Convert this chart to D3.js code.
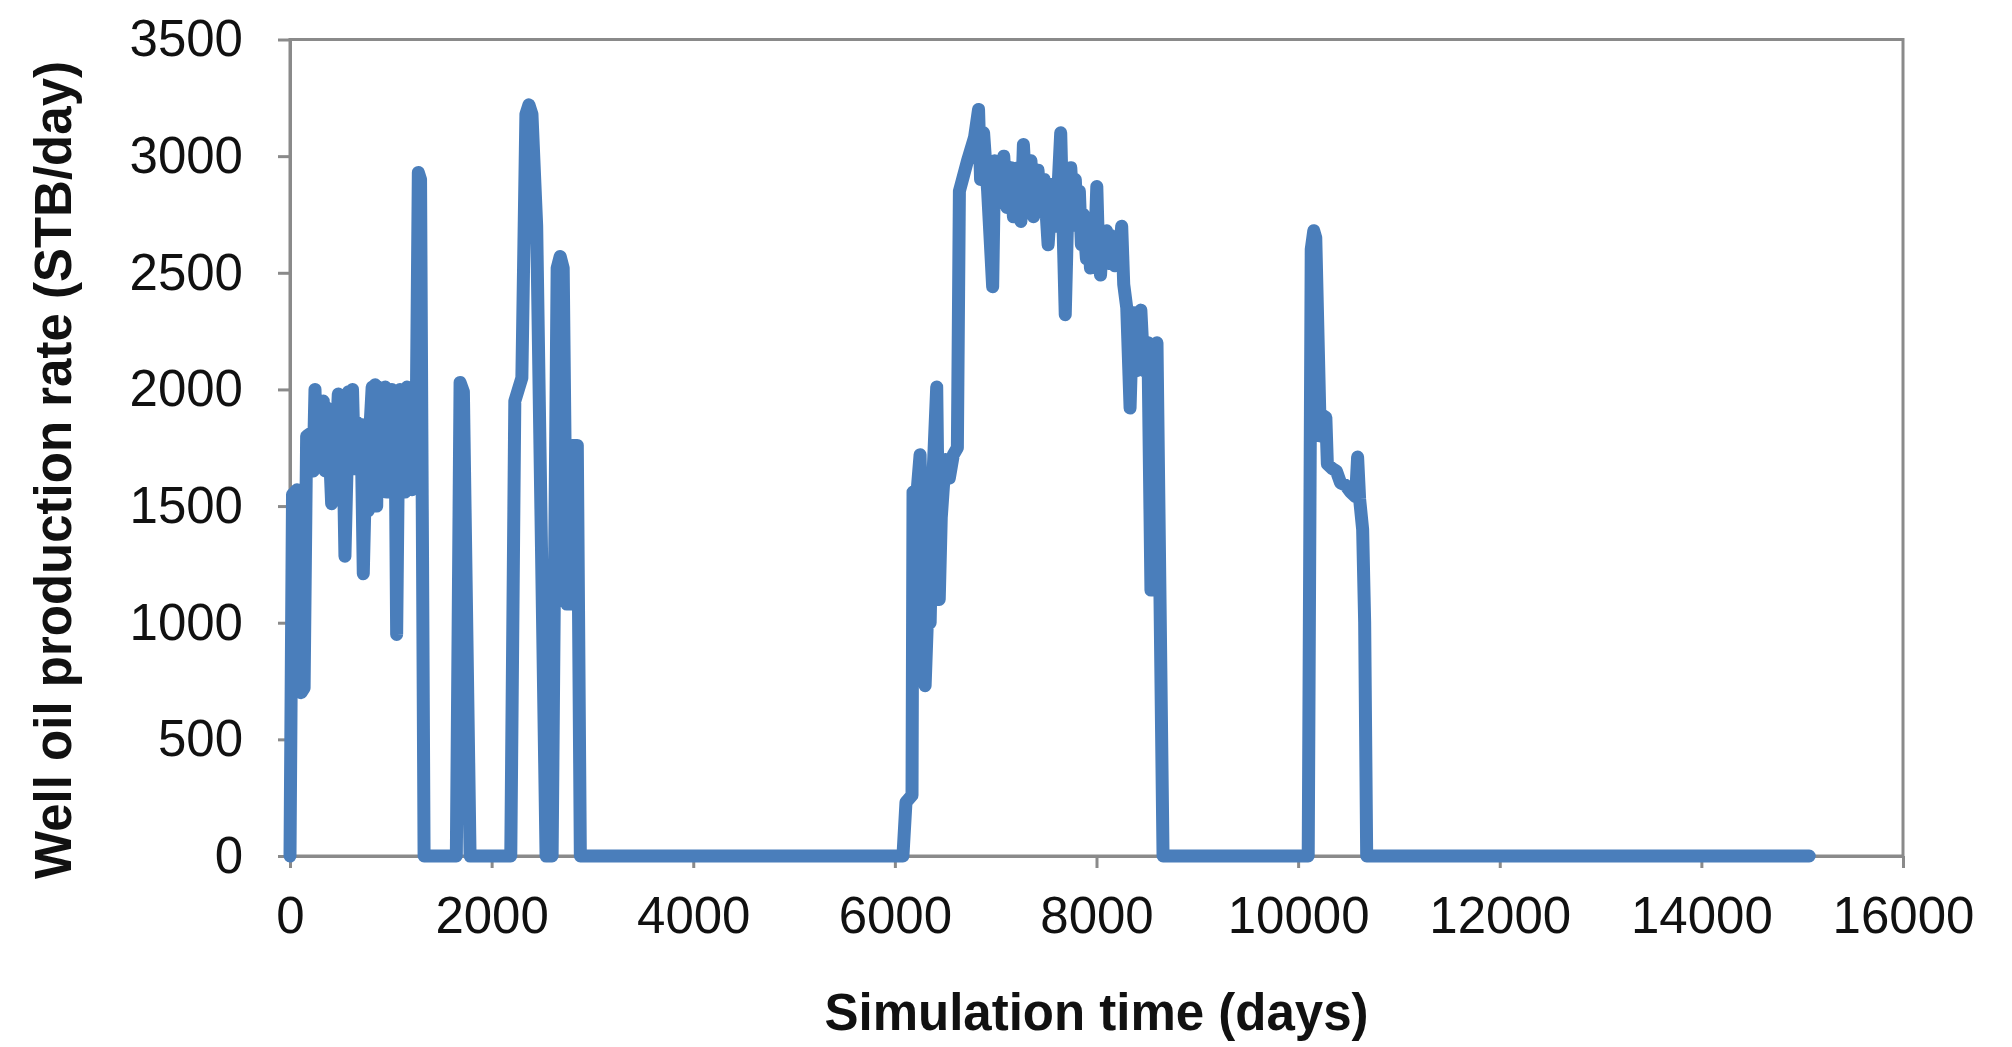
<!DOCTYPE html>
<html>
<head>
<meta charset="utf-8">
<script src="https://cdn.jsdelivr.net/npm/d3@7/dist/d3.min.js"></script>
<style>
    body { margin: 0; background: #fff; }
    svg text { font-family: "Liberation Sans", Arial, sans-serif; fill: #111; }
</style>
</head>
<body>
<svg id="chart" width="2012" height="1047"></svg>
<script>
// Data (days, STB/day)
const simDays = [
    0, 25, 70, 110, 140, 165, 200, 230, 248, 265, 290, 310, 330, 350, 370, 395, 413, 430, 455, 479,
    500, 520, 545, 565, 580, 600, 620, 640, 661, 680, 705, 727, 745, 765, 777, 795, 815, 830, 845, 860,
    875, 895, 912, 930, 945, 960, 975, 992, 1010, 1030, 1045, 1058, 1075, 1091, 1110, 1125, 1141, 1160, 1175, 1190,
    1210, 1225, 1240, 1255, 1273, 1295, 1330,
    1650, 1687, 1720, 1786,
    2190, 2230, 2300, 2340, 2370, 2400, 2447, 2540,
    2600, 2650, 2680, 2710, 2745, 2790, 2800, 2850, 2880,
    6080, 6110, 6170, 6180, 6220, 6250, 6300, 6330, 6350, 6380, 6415, 6440, 6460, 6500, 6540, 6580, 6620, 6640, 6720, 6790,
    6830, 6850, 6880, 6920, 6970, 6990, 7030, 7080, 7110, 7150, 7176, 7220, 7250, 7275, 7310, 7350, 7374, 7420, 7450, 7480,
    7520, 7560, 7600, 7645, 7690, 7720, 7745, 7770, 7790, 7810, 7830, 7850, 7870, 7900, 7920, 7940, 7960, 7980, 8003, 8020,
    8040, 8060, 8080, 8100, 8120, 8140, 8160, 8180, 8200, 8220, 8250, 8270, 8300, 8333, 8360, 8400, 8440, 8470, 8510, 8540,
    8570, 8600, 8660,
    10100, 10130, 10155, 10175, 10220, 10240, 10275, 10290, 10340, 10380, 10420, 10470, 10520, 10570, 10590, 10610, 10640, 10660, 10680,
    15070
];
const oilRate = [
    0, 1550, 1570, 700, 720, 1800, 1810, 1650, 2000, 1680, 1830, 1700, 1950, 1650, 1920, 1700, 1510, 1900, 1750, 1980,
    1650, 1920, 1285, 1650, 1990, 1700, 2000, 1660, 1860, 1700, 1850, 1210, 1550, 1600, 1480, 1850, 2010, 1650, 2020, 1500,
    2010, 1680, 2000, 1650, 2010, 1560, 1950, 1700, 2000, 1620, 1700, 950, 1700, 2000, 1600, 1950, 1560, 2010, 1600, 1980,
    1570, 2010, 1580, 2020, 2930, 2900, 0,
    0, 2030, 1990, 0,
    0, 1950, 2050, 3180, 3220, 3180, 2700, 0,
    0, 2520, 2570, 2520, 1080, 1080, 1760, 1760, 0,
    0, 230, 260, 1560, 1560, 1720, 730, 1100, 1000, 1650, 2010, 1100, 1450, 1700, 1620, 1720, 1750, 2850, 2980, 3080,
    3200, 2900, 3100, 2850, 2440, 2980, 2800, 3000, 2780, 2950, 2740, 2950, 2720, 3050, 2760, 2980, 2740, 2940, 2760, 2900,
    2620, 2880, 2700, 3100, 2320, 2850, 2950, 2750, 2900, 2700, 2850, 2620, 2750, 2560, 2700, 2520, 2640, 2580, 2870, 2600,
    2490, 2650, 2560, 2680, 2540, 2660, 2580, 2530, 2650, 2540, 2700, 2450, 2350, 1920, 2330, 2080, 2340, 2080, 2200, 1140,
    1140, 2200, 0,
    0, 2600, 2680, 2650, 1800, 1890, 1880, 1680, 1660, 1650, 1600, 1590, 1560, 1540, 1710, 1530, 1400, 1000, 0,
    0
];
const xTicks = [0, 2000, 4000, 6000, 8000, 10000, 12000, 14000, 16000];
const yTicks = [0, 500, 1000, 1500, 2000, 2500, 3000, 3500];
const xTitle = "Simulation time (days)";
const yTitle = "Well oil production rate (STB/day)";

const [plotLeft, plotRight, plotTop, plotBottom] = [290, 1903, 39.5, 856];
const axisColor = "#8a8a8a";
const lineColor = "#4a7ebb";

const svg = d3.select("#chart");

const xScale = d3.scaleLinear()
    .domain([0, 16000])
    .range([plotLeft, plotRight]);

const yScale = d3.scaleLinear()
    .domain([0, 3500])
    .range([plotBottom, plotTop]);

// Plot area border
svg.append("rect")
    .attr("x", plotLeft)
    .attr("y", plotTop)
    .attr("width", plotRight - plotLeft)
    .attr("height", plotBottom - plotTop)
    .attr("fill", "none")
    .attr("stroke", axisColor)
    .attr("stroke-width", 3);

// Axes, plain numbers without thousands separator
const yAxis = d3.axisLeft(yScale)
    .tickValues(yTicks)
    .tickFormat(d3.format("d"))
    .tickSize(12)
    .tickSizeOuter(0)
    .tickPadding(35);

const xAxis = d3.axisBottom(xScale)
    .tickValues(xTicks)
    .tickFormat(d3.format("d"))
    .tickSize(12)
    .tickSizeOuter(0)
    .tickPadding(29);

const gy = svg.append("g")
    .attr("transform", `translate(${plotLeft},0)`)
    .call(yAxis);

const gx = svg.append("g")
    .attr("transform", `translate(0,${plotBottom})`)
    .call(xAxis);

[gx, gy].forEach(g => {
    g.select(".domain").attr("stroke", axisColor).attr("stroke-width", 3);
    g.selectAll(".tick line").attr("stroke", axisColor).attr("stroke-width", 3);
    g.selectAll(".tick text")
        .attr("fill", "#111")
        .style("font-family", '"Liberation Sans", Arial, sans-serif')
        .style("font-size", "51px");
});

// Series line
const line = d3.line()
    .x((d, i) => xScale(simDays[i]))
    .y(d => yScale(d));

svg.append("path")
    .datum(oilRate)
    .attr("d", line)
    .attr("fill", "none")
    .attr("stroke", lineColor)
    .attr("stroke-width", 13)
    .attr("stroke-linejoin", "round")
    .attr("stroke-linecap", "round");

// Axis titles
svg.append("text")
    .text(xTitle)
    .attr("x", (plotLeft + plotRight) / 2)
    .attr("y", 1030)
    .attr("text-anchor", "middle")
    .style("font-weight", "bold")
    .style("font-size", "51px");

svg.append("text")
    .text(yTitle)
    .attr("transform", `translate(71,470) rotate(-90)`)
    .attr("text-anchor", "middle")
    .style("font-weight", "bold")
    .style("font-size", "51px");
</script>
</body>
</html>
